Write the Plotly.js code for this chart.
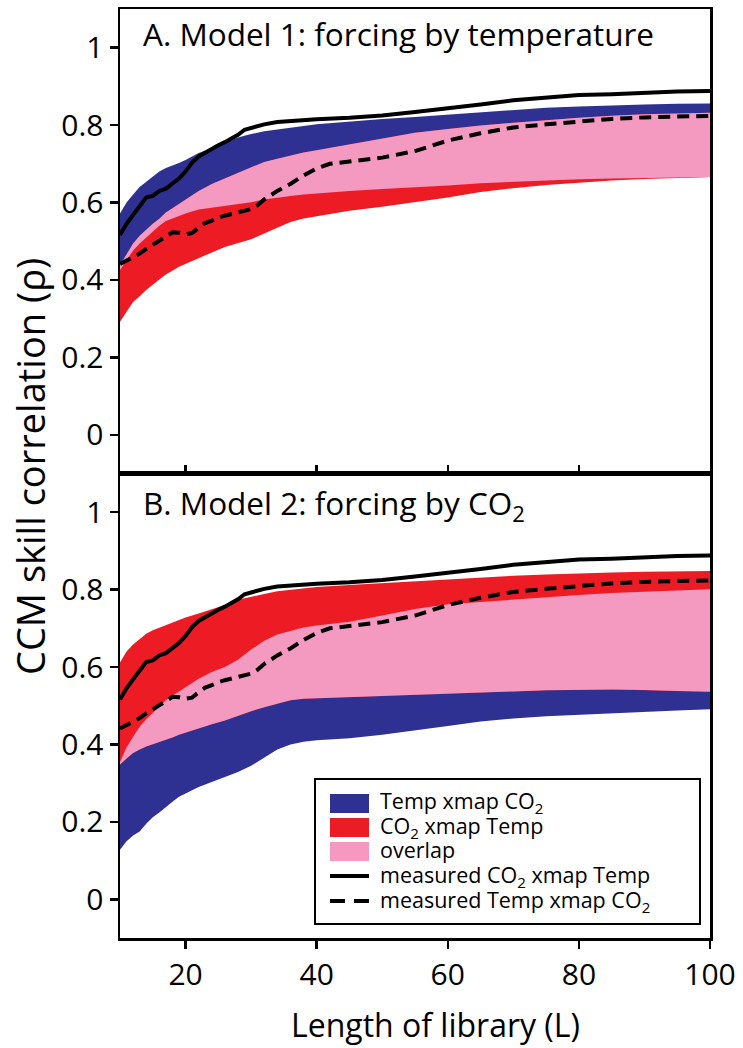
<!DOCTYPE html>
<html><head><meta charset="utf-8">
<script src="https://cdn.plot.ly/plotly-3.0.1.min.js"></script>
<style>html,body{margin:0;padding:0;background:#fff}</style>
</head><body><div id="chart" style="width:743px;height:1048px"></div>
<script>
// ---- data ----
const libLength = [10,11,12,13,14,15,16,17,18,19,20,22,24,26,28,30,32,34,36,38,40,45,50,55,60,65,70,75,80,85,90,95,100];

// Panel A (Model 1: forcing by temperature)
const aTempXmapCO2Hi = [0.572,0.600,0.621,0.640,0.654,0.668,0.680,0.689,0.695,0.702,0.710,0.728,0.740,0.754,0.768,0.777,0.784,0.789,0.794,0.798,0.802,0.809,0.816,0.821,0.827,0.832,0.839,0.845,0.848,0.851,0.853,0.855,0.856];
const aTempXmapCO2Lo = [0.426,0.452,0.476,0.494,0.510,0.525,0.540,0.552,0.560,0.566,0.572,0.582,0.587,0.591,0.596,0.601,0.608,0.613,0.617,0.621,0.624,0.630,0.635,0.640,0.644,0.650,0.654,0.657,0.660,0.662,0.664,0.665,0.666];
const aCO2XmapTempHi = [0.438,0.468,0.494,0.514,0.530,0.545,0.558,0.574,0.585,0.596,0.606,0.630,0.648,0.662,0.678,0.692,0.705,0.713,0.721,0.729,0.735,0.750,0.764,0.780,0.790,0.799,0.806,0.813,0.819,0.824,0.828,0.830,0.832];
const aCO2XmapTempLo = [0.292,0.318,0.343,0.358,0.374,0.388,0.401,0.414,0.424,0.434,0.443,0.457,0.471,0.485,0.495,0.505,0.520,0.536,0.550,0.559,0.566,0.579,0.589,0.601,0.613,0.627,0.637,0.645,0.651,0.657,0.661,0.664,0.666];

// Panel B (Model 2: forcing by CO2)
const bTempXmapCO2Hi = [0.355,0.392,0.420,0.446,0.465,0.482,0.499,0.514,0.526,0.538,0.548,0.570,0.587,0.600,0.619,0.645,0.668,0.684,0.694,0.702,0.707,0.717,0.733,0.750,0.762,0.768,0.775,0.780,0.786,0.791,0.795,0.798,0.801];
const bTempXmapCO2Lo = [0.128,0.150,0.165,0.175,0.195,0.212,0.224,0.237,0.252,0.265,0.274,0.290,0.303,0.315,0.329,0.345,0.366,0.387,0.400,0.407,0.411,0.416,0.425,0.437,0.448,0.459,0.467,0.473,0.477,0.480,0.484,0.488,0.491];
const bCO2XmapTempHi = [0.612,0.640,0.658,0.672,0.686,0.695,0.702,0.708,0.714,0.721,0.728,0.738,0.749,0.760,0.774,0.782,0.789,0.796,0.800,0.804,0.807,0.812,0.817,0.821,0.826,0.832,0.836,0.839,0.842,0.844,0.846,0.847,0.848];
const bCO2XmapTempLo = [0.348,0.364,0.378,0.387,0.395,0.402,0.407,0.412,0.418,0.425,0.431,0.442,0.452,0.462,0.473,0.486,0.496,0.506,0.514,0.518,0.520,0.522,0.525,0.528,0.531,0.534,0.537,0.540,0.541,0.542,0.541,0.538,0.536];

// Measured (same in both panels)
const measuredCO2XmapTempL = [10,11,12,13,14,15,16,17,18,19,20,21,22,23,24,25,26,27,28,29,30,32,34,36,38,40,45,50,55,60,65,70,75,80,85,90,95,100];
const measuredCO2XmapTemp = [0.516,0.545,0.568,0.592,0.613,0.617,0.630,0.636,0.648,0.662,0.680,0.703,0.719,0.729,0.738,0.748,0.756,0.765,0.775,0.788,0.793,0.802,0.808,0.811,0.813,0.815,0.819,0.825,0.834,0.843,0.853,0.864,0.872,0.878,0.880,0.884,0.887,0.888];
const measuredTempXmapCO2L = [10,11,12,13,14,15,16,17,18,19,20,21,22,23,24,25,26,27,28,29,30,31,32,34,36,38,40,42,45,50,55,58,60,65,70,75,80,85,90,95,100];
const measuredTempXmapCO2 = [0.441,0.450,0.458,0.468,0.480,0.490,0.502,0.512,0.523,0.522,0.518,0.521,0.535,0.547,0.553,0.561,0.566,0.570,0.574,0.578,0.583,0.593,0.608,0.630,0.648,0.670,0.688,0.700,0.706,0.716,0.733,0.749,0.760,0.779,0.794,0.802,0.809,0.816,0.820,0.822,0.824];

const yTickVals = [0,0.2,0.4,0.6,0.8,1];
const yTickText = ['0','0.2','0.4','0.6','0.8','1'];
const xTickVals = [20,40,60,80,100];
const legendLabels = ['Temp xmap CO<sub>2</sub>','CO<sub>2</sub> xmap Temp','overlap','measured CO<sub>2</sub> xmap Temp','measured Temp xmap CO<sub>2</sub>'];

// ---- styles ----
const BLUE = '#2E3192', RED = '#ED1C24', PINK = '#F49AC1';
const FONT = 'Open Sans';

function band(x, lo, hi, color, xa, ya) {
  return {x: x.concat(x.slice().reverse()), y: hi.concat(lo.slice().reverse()),
    fill: 'toself', fillcolor: color, mode: 'lines', line: {width: 0, color: color},
    xaxis: xa, yaxis: ya, hoverinfo: 'skip', showlegend: false};
}
function line(x, y, dash, xa, ya) {
  return {x: x, y: y, mode: 'lines', line: {color: '#000', width: 4, dash: dash},
    xaxis: xa, yaxis: ya, hoverinfo: 'skip', showlegend: false};
}

const traces = [
  // Panel A (top): x2/y2
  band(libLength, aTempXmapCO2Lo, aTempXmapCO2Hi, BLUE, 'x2', 'y2'),
  band(libLength, aCO2XmapTempLo, aCO2XmapTempHi, RED, 'x2', 'y2'),
  band(libLength, aTempXmapCO2Lo, aCO2XmapTempHi, PINK, 'x2', 'y2'),
  line(measuredCO2XmapTempL, measuredCO2XmapTemp, 'solid', 'x2', 'y2'),
  line(measuredTempXmapCO2L, measuredTempXmapCO2, '12px,7px', 'x2', 'y2'),
  // Panel B (bottom): x/y
  band(libLength, bTempXmapCO2Lo, bTempXmapCO2Hi, BLUE, 'x', 'y'),
  band(libLength, bCO2XmapTempLo, bCO2XmapTempHi, RED, 'x', 'y'),
  band(libLength, bCO2XmapTempLo, bTempXmapCO2Hi, PINK, 'x', 'y'),
  line(measuredCO2XmapTempL, measuredCO2XmapTemp, 'solid', 'x', 'y'),
  line(measuredTempXmapCO2L, measuredTempXmapCO2, '12px,7px', 'x', 'y')
];

// pixel -> paper helpers (plot area: x 120..710, y 9..938)
const PL = 120, PR = 710, PT = 9, PB = 938;
const px = p => (p - PL) / (PR - PL);
const py = p => (PB - p) / (PB - PT);

const axBase = {showgrid: false, zeroline: false, showline: true, linecolor: '#000', linewidth: 2.5,
  mirror: true, tickcolor: '#000', tickwidth: 2.5, tickfont: {family: FONT, size: 30, color: '#000'}};

const layout = {
  width: 743, height: 1048,
  margin: {l: PL, r: 743 - PR, t: PT, b: 1048 - PB, pad: 0},
  paper_bgcolor: '#fff', plot_bgcolor: '#fff', showlegend: false,
  font: {family: FONT, color: '#000'},
  xaxis: Object.assign({}, axBase, {domain: [0, 1], anchor: 'y', range: [10, 100], tickmode: 'array',
    tickvals: xTickVals, ticks: 'outside', ticklen: 8}),
  yaxis: Object.assign({}, axBase, {domain: [0, 0.5], anchor: 'x', range: [-0.1, 1.1], tickmode: 'array',
    tickvals: yTickVals, ticktext: yTickText, ticks: 'outside', ticklen: 8}),
  xaxis2: Object.assign({}, axBase, {domain: [0, 1], anchor: 'y2', range: [10, 100], tickmode: 'array',
    tickvals: xTickVals, ticks: 'inside', ticklen: 9, showticklabels: false}),
  yaxis2: Object.assign({}, axBase, {domain: [0.5, 1], anchor: 'x2', range: [-0.1, 1.1], tickmode: 'array',
    tickvals: yTickVals, ticktext: yTickText, ticks: 'outside', ticklen: 8}),
  annotations: [
    {text: 'A. Model 1: forcing by temperature', xref: 'paper', yref: 'paper', x: px(141), y: py(9.5),
      xanchor: 'left', yanchor: 'top', showarrow: false, font: {family: FONT, size: 31.5, color: '#000'}},
    {text: 'B. Model 2: forcing by CO<sub>2</sub>', xref: 'paper', yref: 'paper', x: px(141), y: py(479),
      xanchor: 'left', yanchor: 'top', showarrow: false, font: {family: FONT, size: 31.5, color: '#000'}},
    {text: 'CCM skill correlation (\u03c1)', xref: 'paper', yref: 'paper', x: px(30), y: py(467),
      xanchor: 'center', yanchor: 'middle', textangle: -90, showarrow: false, font: {family: FONT, size: 38, color: '#000'}},
    {text: 'Length of library (L)', xref: 'paper', yref: 'paper', x: px(435), y: py(1024),
      xanchor: 'center', yanchor: 'middle', showarrow: false, font: {family: FONT, size: 32, color: '#000'}}
  ],
  shapes: [
    {type: 'rect', xref: 'paper', yref: 'paper', x0: px(315), x1: px(700), y0: py(779), y1: py(924),
      line: {color: '#000', width: 2}, fillcolor: '#fff'},
    {type: 'rect', xref: 'paper', yref: 'paper', x0: px(330), x1: px(369), y0: py(794), y1: py(813),
      line: {width: 0}, fillcolor: BLUE},
    {type: 'rect', xref: 'paper', yref: 'paper', x0: px(330), x1: px(369), y0: py(818), y1: py(837),
      line: {width: 0}, fillcolor: RED},
    {type: 'rect', xref: 'paper', yref: 'paper', x0: px(330), x1: px(369), y0: py(842), y1: py(861),
      line: {width: 0}, fillcolor: PINK},
    {type: 'line', xref: 'paper', yref: 'paper', x0: px(330), x1: px(369), y0: py(876), y1: py(876),
      line: {color: '#000', width: 4}},
    {type: 'line', xref: 'paper', yref: 'paper', x0: px(330), x1: px(369), y0: py(901), y1: py(901),
      line: {color: '#000', width: 4, dash: '15px,9px'}}
  ]
};

const baselines = [808, 833, 857, 882, 907];
legendLabels.forEach((t, i) => {
  layout.annotations.push({text: t, xref: 'paper', yref: 'paper', x: px(379), y: py(baselines[i] - 23),
    xanchor: 'left', yanchor: 'top', borderpad: 0, showarrow: false, font: {family: FONT, size: 21.5, color: '#000'}});
});

Plotly.newPlot('chart', traces, layout, {displayModeBar: false, staticPlot: true});
</script></body></html>
